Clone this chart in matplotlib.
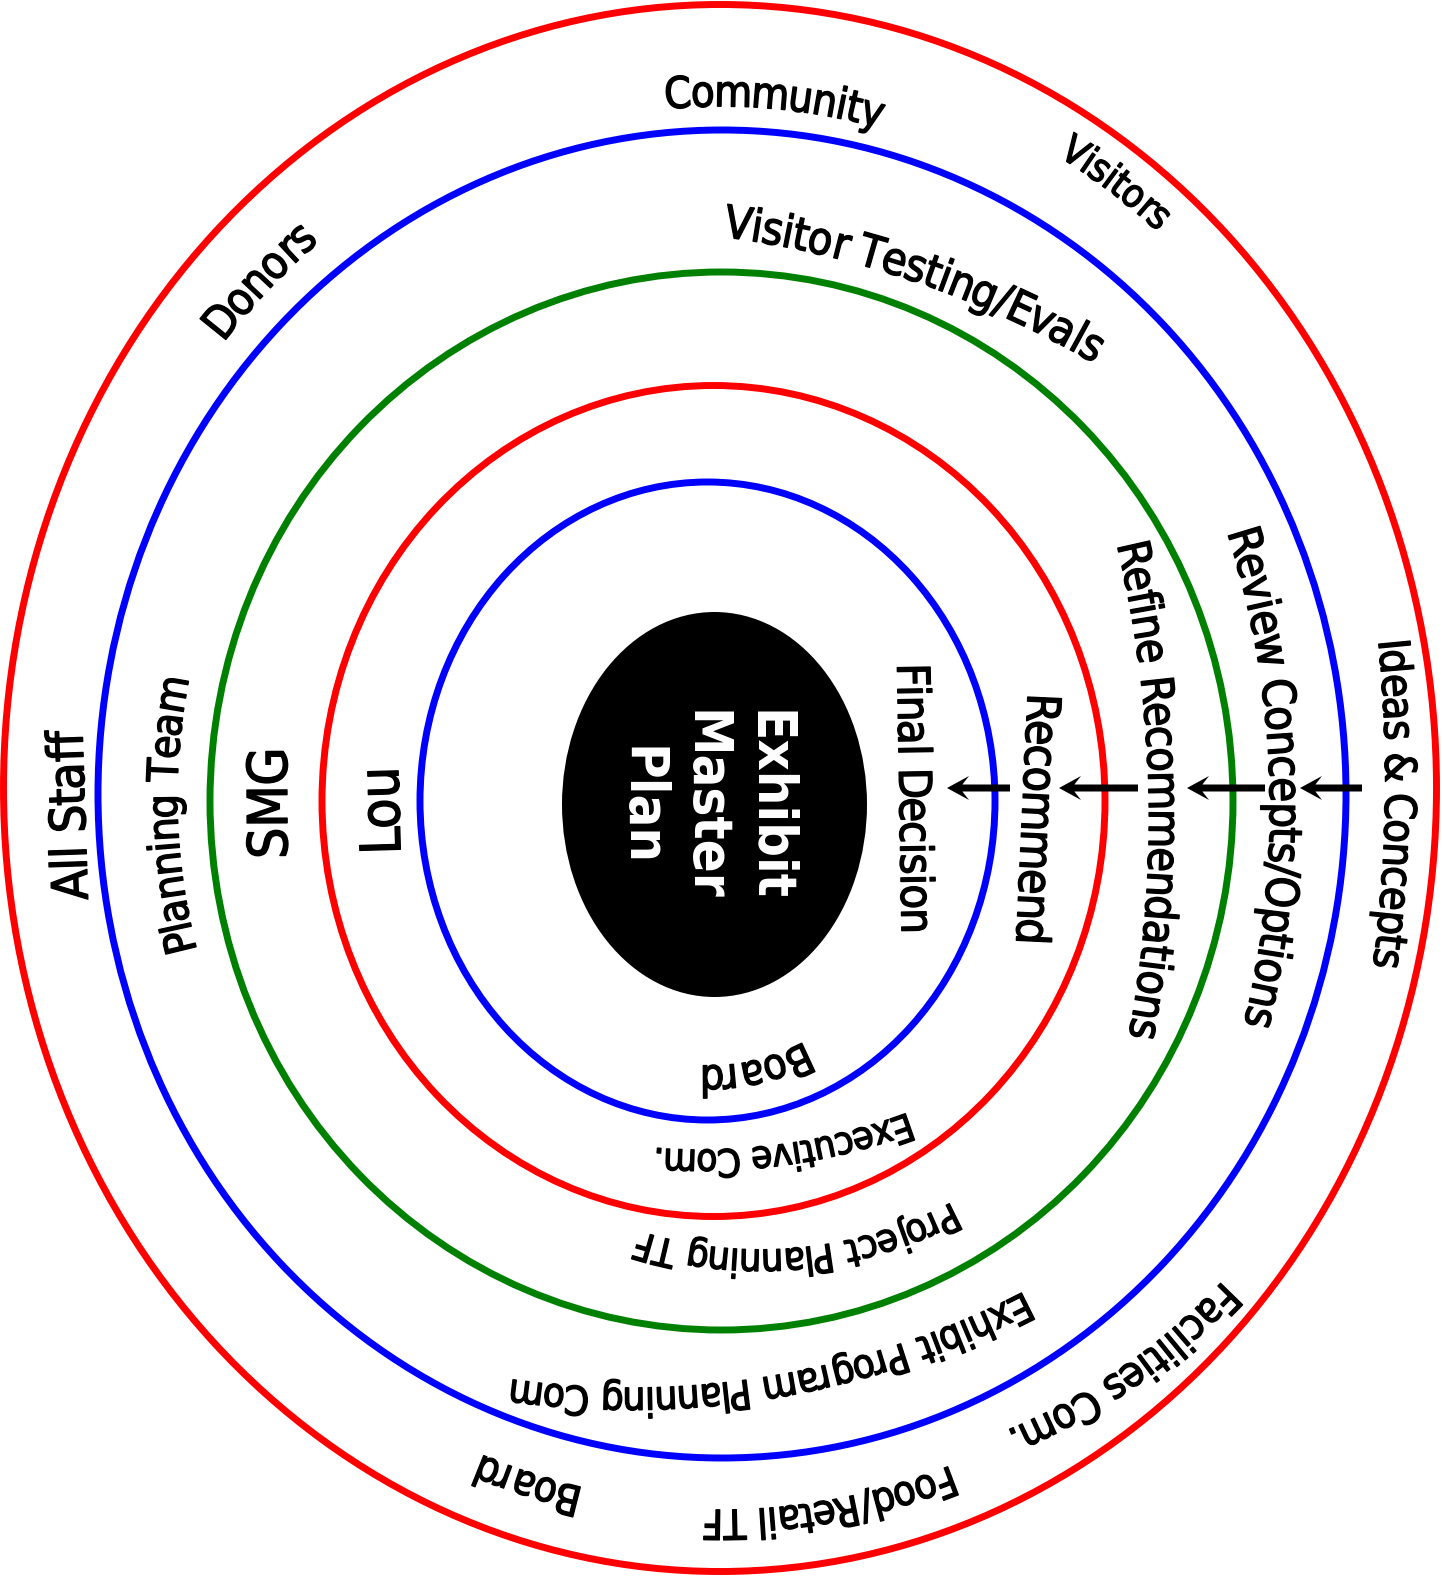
import numpy as np
import matplotlib
matplotlib.use("Agg")
import matplotlib.pyplot as plt
import matplotlib.patheffects as pe
from matplotlib.patches import Ellipse, FancyArrow
from matplotlib.font_manager import FontProperties, findfont, get_font

W, H, DPI = 1442, 1576, 100

# rings, outermost first (pixel space)
ring_colors = ["#ff0000", "#0000ff", "#008000", "#ff0000", "#0000ff"]
ring_cx = [720, 722, 721.5, 713.5, 707.5]
ring_cy = [788, 794, 801, 801, 801]
ring_w = [1433, 1248, 1023, 783, 575]
ring_h = [1567, 1328, 1058, 831, 638]
core_cx, core_cy, core_w, core_h = 714.5, 804.5, 305, 385
core_text = "Exhibit\nMaster\nPlan"

# labels; band i lies between ring i and the next ring (band 4 = inside last ring)
labels = ["Community", "Visitors", "Donors", "All Staff", "Ideas & Concepts",
          "Facilities Com.", "Food/Retail TF", "Board",
          "Visitor Testing/Evals", "Planning Team", "Review Concepts/Options",
          "Exhibit Program Planning Com",
          "SMG", "Refine Recommendations", "Project Planning TF",
          "Lou", "Recommend", "Executive Com.",
          "Final Decision", "Board"]
label_band = [0, 0, 0, 0, 0, 0, 0, 0, 1, 1, 1, 1, 2, 2, 2, 3, 3, 3, 4, 4]
label_xy = [(775, 93), (1118, 180), (257, 278), (67, 816), (1401, 804),
            (1131, 1380), (832, 1515), (527, 1488),
            (920, 266), (162, 816), (1286, 776), (777, 1390),
            (267, 803), (1165, 789), (800, 1262),
            (379, 812), (1039, 819), (785, 1158),
            (916, 798), (757, 1076)]
label_len = [212, 120, 135, 162, 322, 262, 250, 105,
             390, 270, 495, 525,
             107, 492, 320,
             85, 248, 255,
             266, 105]
label_pt = [31.5, 31.5, 33, 37.5, 33.5, 30.5, 30.5, 30.5,
            32.5, 32.5, 33.5, 30,
            39.5, 33.5, 28.5,
            40, 33.5, 29.5,
            34, 31]
# how much flatter than its band a label runs (None = straight),
# and a sideways shift of the band centre for that label's curve
label_bend = [1, 1, 1, None, 1.8, 1, 1, 1,
              2.0, 1, 1.5, 1.6,
              None, 2.5, 1.0,
              None, None, 2.0,
              None, 1]
label_dx = [0, 0, 0, 0, 0, 60, 0, 0,
            34, 0, 0, -37,
            0, 0, 43,
            0, 0, 32,
            0, 0]

# arrows pointing inwards along the right-hand radius
arrow_tail = [1362, 1265, 1138, 1010]
arrow_tip = [1300, 1187, 1059, 947]
arrow_y = 788

FONT = dict(family="DejaVu Sans", stretch="condensed")
SQ_MIN = 0.96
INK = [pe.withStroke(linewidth=1.0, foreground="black")]


def band_ellipse(i):
    if i < len(ring_w) - 1:
        cx2, cy2, w2, h2 = ring_cx[i + 1], ring_cy[i + 1], ring_w[i + 1], ring_h[i + 1]
    else:
        cx2, cy2, w2, h2 = core_cx, core_cy, core_w, core_h
    return ((ring_cx[i] + cx2) / 2, (ring_cy[i] + cy2) / 2,
            (ring_w[i] + w2) / 4, (ring_h[i] + h2) / 4)


def glyph_metrics(s, size_pt):
    """Advance and ink-centre offset (from pen position) of every character, in px."""
    font = get_font(findfont(FontProperties(**FONT)))
    font.set_size(size_pt, DPI)
    adv, ink = [], []
    for c in s:
        g = font.load_char(ord(c))
        adv.append(g.linearHoriAdvance / 65536)
        ink.append((g.horiBearingX + g.width / 2) / 64)
    return np.array(adv), np.array(ink)


def curved_text(ax, s, band, xy, length, size_pt, bend, dx):
    cx, cy, RX, RY = band_ellipse(band)
    cx += dx
    u, v = (xy[0] - cx) / RX, (xy[1] - cy) / RY
    k = np.hypot(u, v)
    t0 = np.arctan2(v, u)
    em = size_pt * DPI / 72
    sq = (length + 0.1 * em) / glyph_metrics(s, size_pt)[0].sum()
    if sq < SQ_MIN:
        size_pt *= sq / SQ_MIN
        sq = SQ_MIN
    em = size_pt * DPI / 72
    adv, ink = glyph_metrics(s, size_pt)
    off = 0.365 * em  # half cap height: baseline sits on the inner side
    rx, ry = k * RX - off, k * RY - off
    bx, by = cx + rx * np.cos(t0), cy + ry * np.sin(t0)
    f = 1000.0 if bend is None else bend
    rx, ry = f * rx, f * ry
    cx, cy = bx - rx * np.cos(t0), by - ry * np.sin(t0)
    t = np.linspace(t0 - np.pi, t0 + np.pi, 20000)
    seg = np.hypot(np.diff(rx * np.cos(t)), np.diff(ry * np.sin(t)))
    arc = np.concatenate([[0], np.cumsum(seg)])
    s0 = np.interp(t0, t, arc)
    mids = (np.cumsum(adv) - adv / 2 - adv.sum() / 2) * sq + (ink - adv / 2)
    for c, d in zip(s, mids):
        if c == " ":
            continue
        tc = np.interp(s0 + d, arc, t)
        x, y = cx + rx * np.cos(tc), cy + ry * np.sin(tc)
        rot = np.degrees(np.arctan2(-ry * np.cos(tc), -rx * np.sin(tc)))
        ax.text(x, y, c, rotation=rot, rotation_mode="anchor", ha="center",
                va="baseline", fontsize=size_pt, path_effects=INK, **FONT)


fig = plt.figure(figsize=(W / DPI, H / DPI), dpi=DPI)
ax = fig.add_axes([0, 0, 1, 1])
ax.set_xlim(0, W)
ax.set_ylim(H, 0)
ax.axis("off")

for col, cx, cy, w, h in zip(ring_colors, ring_cx, ring_cy, ring_w, ring_h):
    ax.add_patch(Ellipse((cx, cy), w, h, fill=False, ec=col, lw=5))
ax.add_patch(Ellipse((core_cx, core_cy), core_w, core_h, fc="black", ec="none"))
ax.text(core_cx - 10, core_cy + 1, core_text, rotation=-90, ha="center", va="center",
        multialignment="center", color="white", fontsize=39, fontweight="bold",
        linespacing=1.3, **FONT)

for s, b, xy, n, pt, bd, sx in zip(labels, label_band, label_xy, label_len,
                                    label_pt, label_bend, label_dx):
    curved_text(ax, s, b, xy, n, pt, bd, sx)

for x0, x1 in zip(arrow_tail, arrow_tip):
    ax.add_patch(FancyArrow(x0, arrow_y, x1 - x0, 0, width=7, head_width=24,
                            head_length=22, overhang=0.3, length_includes_head=True,
                            fc="black", ec="none"))

fig.savefig("out.png", dpi=DPI)
